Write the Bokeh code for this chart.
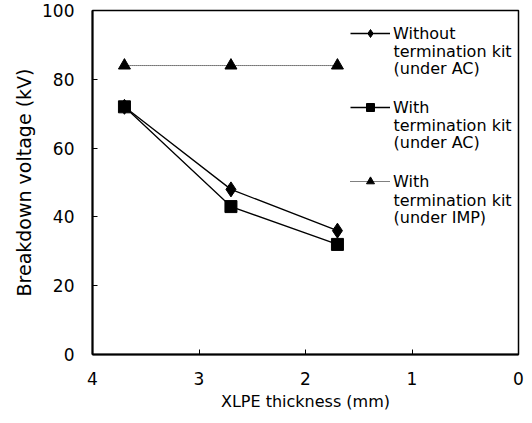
from bokeh.plotting import figure
from bokeh.models import Range1d, Legend, LegendItem, FixedTicker, Label
from bokeh.embed import file_html
from bokeh.resources import INLINE

thickness = [3.7, 2.7, 1.7]
without_kit_ac = [72, 48, 36]
with_kit_ac = [72, 43, 32]
with_kit_imp = [84, 84, 84]
labels = [["Without", "termination kit", "(under AC)"],
          ["With", "termination kit", "(under AC)"],
          ["With", "termination kit", "(under IMP)"]]
x_ticks = [4, 3, 2, 1, 0]
y_ticks = [0, 20, 40, 60, 80, 100]

FONT = "DejaVu Sans"

W, H = 524, 415
BL, BR, BT, BB = 92, 6, 10, 61
p = figure(width=W, height=H, output_backend="svg", toolbar_location=None,
           x_range=Range1d(4, 0), y_range=Range1d(0, 100),
           min_border_left=BL, min_border_right=BR, min_border_top=BT, min_border_bottom=BB)
p.grid.visible = False
p.outline_line_color = "black"
p.outline_line_width = 1.5
p.background_fill_color = "white"

for ax in (p.xaxis[0], p.yaxis[0]):
    ax.axis_line_width = 2
    ax.axis_line_color = "black"
    ax.major_tick_in = 5
    ax.major_tick_out = 0
    ax.major_tick_line_width = 1
    ax.minor_tick_line_color = None
    ax.major_label_text_font = FONT
    ax.major_label_text_font_size = "17px"
    ax.major_label_text_color = "black"
    ax.axis_label_text_font = FONT
    ax.axis_label_text_font_style = "normal"
    ax.axis_label_text_color = "black"

p.xaxis.ticker = FixedTicker(ticks=x_ticks)
p.yaxis.ticker = FixedTicker(ticks=y_ticks)
p.xaxis.axis_label = "XLPE thickness (mm)"
p.yaxis.axis_label = "Breakdown voltage (kV)"
p.xaxis.axis_label_text_font_size = "16px"
p.yaxis.axis_label_text_font_size = "19px"
p.xaxis.major_label_standoff = 17
p.yaxis.major_label_standoff = 18
p.xaxis.axis_label_standoff = 4
p.yaxis.axis_label_standoff = 4

l1 = p.line(thickness, without_kit_ac, line_color="black", line_width=1.3)
m1 = p.scatter(thickness, without_kit_ac, marker="diamond", size=15, color="black")
l2 = p.line(thickness, with_kit_ac, line_color="black", line_width=1.3)
m2 = p.scatter(thickness, with_kit_ac, marker="square", size=12, color="black")
l3 = p.line(thickness, with_kit_imp, line_color="black", line_width=1, line_dash="1 1")
m3 = p.scatter(thickness, with_kit_imp, marker="triangle", size=12, color="black")

# legend: first line of each entry in the Legend, continuation lines as Labels
item_h, pitch, line_h = 20, 74, 17.5
first_y = [33, 107, 182]          # centre of each entry's first line (canvas px)
frame_bottom = H - BB
glyph_x0 = 350 - BL               # legend left edge, frame px
legend_top = first_y[0] - item_h / 2
legend_bottom = legend_top + 3 * item_h + 2 * (pitch - item_h)
legend = Legend(items=[LegendItem(label=labels[0][0], renderers=[l1, m1]),
                       LegendItem(label=labels[1][0], renderers=[l2, m2]),
                       LegendItem(label=labels[2][0], renderers=[l3, m3])],
                location=(glyph_x0, frame_bottom - legend_bottom),
                border_line_color=None, background_fill_alpha=0,
                padding=0, margin=0, spacing=pitch - item_h, glyph_width=40, glyph_height=item_h,
                label_height=item_h, label_standoff=3,
                label_text_font=FONT, label_text_font_size="16px", label_text_baseline="middle",
                label_text_color="black")
p.add_layout(legend)

text_x = glyph_x0 + 40 + 3
for i, entry in enumerate(labels):
    for j, line in enumerate(entry[1:], start=1):
        cy = first_y[i] + j * line_h
        p.add_layout(Label(x=text_x, y=frame_bottom - cy, x_units="screen", y_units="screen",
                           text=line, text_font=FONT, text_font_size="16px",
                           text_baseline="middle", text_align="left", text_color="black"))

open("out.html", "w").write(file_html(p, INLINE))
